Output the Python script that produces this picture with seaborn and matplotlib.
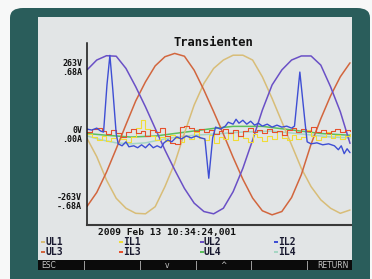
import numpy as np
import pandas as pd
import matplotlib
matplotlib.use("Agg")
import matplotlib.pyplot as plt
from matplotlib.patches import FancyBboxPatch, Rectangle
import seaborn as sns

# ── Data (time in ms, voltages in V, currents in A) ─────────────────────────
T_MS = list(range(28))
UL1 = [-17, -89, -181, -253, -292, -312, -314, -286, -207, -115, 3, 114, 199, 258,
       291, 310, 310, 291, 225, 140, 48, -43, -135, -207, -259, -292, -312, -299]
UL2 = [252, 291, 308, 306, 258, 186, 107, 22, -63, -141, -214, -272, -305, -314,
       -292, -227, -135, -24, 94, 193, 252, 291, 307, 307, 271, 186, 88, -37]
UL3 = [-285, -230, -150, -58, 37, 130, 205, 268, 304, 317, 306, 251, 173, 88,
       0, -92, -178, -252, -302, -318, -305, -250, -160, -40, 60, 150, 225, 280]

T_UL4 = [0, 2, 4.5, 7, 9, 11, 13, 15, 18, 21, 24, 27]
UL4 = [2, -5, -12, -8, 2, 12, 22, 30, 30, 16, 2, -5]

T_IL4 = [0, 1.5, 3, 4.5, 6, 8, 10, 13, 16, 19, 22, 25, 27]
IL4 = [-0.02, -0.06, -0.09, -0.10, -0.09, -0.05, -0.02, 0.0, 0.02, 0.03, 0.0, -0.03, -0.04]

T_NOISE = np.arange(0, 27.01, 0.5)   # sample clock of the noisy channels
IL1 = [0.00, -0.03, -0.06, -0.02, -0.07, -0.04, 0.01, -0.05, -0.08, -0.03,
       0.06, 0.14, 0.05, -0.02, -0.06, -0.03, -0.07, -0.01, -0.04, -0.08,
       -0.02, -0.05, 0.02, -0.04, -0.06, -0.01, -0.09, -0.03, -0.05, 0.01,
       -0.06, -0.02, -0.04, -0.08, 0.00, -0.03, -0.07, -0.02, -0.05, 0.03,
       -0.04, -0.06, -0.01, -0.05, -0.03, 0.04, -0.02, -0.06, -0.03, 0.02,
       -0.04, -0.01, -0.05, -0.02, 0.00]
IL3 = [0.02, 0.05, 0.06, 0.03, 0.00, 0.04, 0.01, -0.03, 0.02, 0.05,
       0.01, 0.03, -0.02, 0.04, 0.02, 0.06, -0.02, -0.09, -0.10, 0.07,
       0.08, 0.06, 0.03, 0.05, 0.02, 0.04, 0.00, 0.03, 0.05, 0.01,
       0.04, -0.02, 0.03, 0.06, 0.02, 0.04, 0.01, 0.05, 0.02, 0.03,
       -0.01, 0.04, 0.06, 0.02, 0.05, 0.03, 0.07, 0.02, 0.04, 0.01,
       0.03, 0.05, 0.02, 0.04, 0.03]

T_IL2 = [0.0, 0.5, 1.0, 1.4, 1.7, 2.05, 2.35, 2.65, 3.0, 3.2, 3.6, 4.0, 4.3, 4.8,
         5.2, 5.6, 6.0, 6.4, 6.8, 7.2, 7.6, 7.9, 8.3, 8.7, 9.2, 9.7, 10.2, 10.7,
         11.2, 11.7, 12.1, 12.5, 12.9, 13.2, 13.7, 14.2, 14.5, 15.0, 15.3, 15.6,
         16.0, 16.4, 16.8, 17.2, 17.6, 18.0, 18.5, 19.0, 19.5, 20.0, 20.5, 21.0,
         21.3, 21.85, 22.4, 22.6, 23.0, 23.6, 24.2, 24.8, 25.4, 25.8, 26.1, 26.4,
         26.7, 27.0]
IL2 = [0.05, 0.04, 0.06, 0.03, 0.02, 0.50, 0.80, 0.45, 0.00, -0.10, -0.12, -0.08,
       -0.13, -0.12, -0.14, -0.11, -0.14, -0.10, -0.14, -0.12, -0.14, -0.09, -0.06,
       -0.08, -0.03, -0.05, -0.02, -0.04, -0.02, -0.04, -0.05, -0.45, -0.04, 0.07,
       0.05, 0.08, 0.12, 0.10, 0.15, 0.11, 0.14, 0.10, 0.13, 0.09, 0.11, 0.08,
       0.10, 0.07, 0.09, 0.07, 0.08, 0.06, 0.08, 0.63, 0.10, -0.08, -0.10, -0.09,
       -0.11, -0.10, -0.12, -0.16, -0.12, -0.20, -0.15, -0.19]

V_PER_A = 263 / 0.68          # screen scale: 263 V and .68 A share a grid line
Y_TICKS = [263, 0, -263]
Y_LABELS = ["263V\n.68A", "0V\n.00A", "-263V\n-.68A"]
TIMESTAMP = "2009 Feb 13 10:34:24,001"
LEGEND_ROWS = [["UL1", "IL1", "UL2", "IL2"], ["UL3", "IL3", "UL4", "IL4"]]
KEYS = ["ESC", "", "v", "^", "", "RETURN"]

COLORS = {
    "UL1": "#d8bd78", "UL2": "#6a50c6", "UL3": "#d2663e", "UL4": "#5cbf5c",
    "IL1": "#f0dc36", "IL2": "#3e4ed4", "IL3": "#e6502c", "IL4": "#a6d6c4",
}

def frame(name, t, v, scale=1.0):
    return pd.DataFrame({"t": t, "v": np.asarray(v, float) * scale, "ch": name})

smooth = pd.concat([
    frame("IL4", T_IL4, IL4, V_PER_A),
    frame("UL4", T_UL4, UL4),
    frame("UL1", T_MS, UL1),
    frame("UL3", T_MS, UL3),
    frame("UL2", T_MS, UL2),
], ignore_index=True)
noisy = pd.concat([
    frame("IL1", T_NOISE, IL1, V_PER_A),
    frame("IL3", T_NOISE, IL3, V_PER_A),
], ignore_index=True)
il2 = frame("IL2", T_IL2, IL2, V_PER_A)

# ── Figure ───────────────────────────────────────────────────────────────────
sns.set_style("white")
plt.rcParams["font.family"] = ["DejaVu Sans Mono", "DejaVu Sans"]
W, H = 372, 279
fig = plt.figure(figsize=(W / 100, H / 100), dpi=100)
fig.patch.set_facecolor("#f7f8f8")

def box(x0, y0, x1, y1, **kw):
    return Rectangle((x0 / W, 1 - y1 / H), (x1 - x0) / W, (y1 - y0) / H,
                     transform=fig.transFigure, **kw)

# device bezel and screen
bezel = FancyBboxPatch((10 / W, -0.05), (360 / W), 1 - 8 / H + 0.05,
                       boxstyle="round,pad=0,rounding_size=0.035",
                       transform=fig.transFigure, facecolor="#2a5d5b",
                       edgecolor="none", zorder=-3)
fig.add_artist(bezel)
fig.add_artist(box(38, 17, 352, 270, facecolor="#e2e5e6", edgecolor="none", zorder=-2))
fig.add_artist(box(38, 260, 352, 270, facecolor="#0b0b0b", edgecolor="none", zorder=-1))
for sx in [84, 140, 196, 251, 307]:
    fig.add_artist(box(sx, 261, sx + 0.8, 270, facecolor="#9a9a9a", edgecolor="none", zorder=-1))

ax = fig.add_axes([87 / W, 1 - 225 / H, (351 - 87) / W, (225 - 43) / H])
ax.set_facecolor("none")

sns.lineplot(data=smooth, x="t", y="v", hue="ch", palette=COLORS, estimator=None,
             sort=False, legend=False, linewidth=1.1, ax=ax)
sns.lineplot(data=noisy, x="t", y="v", hue="ch", palette=COLORS, estimator=None,
             sort=False, legend=False, linewidth=0.8, drawstyle="steps-post", ax=ax)
sns.lineplot(data=il2, x="t", y="v", hue="ch", palette=COLORS, estimator=None,
             sort=False, legend=False, linewidth=1.0, ax=ax)

ax.set_xlim(0, 27.1)
ax.set_ylim(-358, 358)
ax.set_xlabel("")
ax.set_ylabel("")
ax.set_xticks([])
ax.set_yticks(Y_TICKS)
ax.set_yticklabels(Y_LABELS, fontsize=6, fontweight="bold", linespacing=1.05)
ax.tick_params(axis="y", length=2.5, width=0.8, color="#111111", pad=1,
               labelcolor="#111111")
for side in ["top", "right"]:
    ax.spines[side].set_visible(False)
ax.spines["left"].set_color("#111111")
ax.spines["left"].set_linewidth(1.1)
ax.spines["bottom"].set_color("#3a3a3a")
ax.spines["bottom"].set_linewidth(1.5)

txt = dict(fontweight="bold", transform=fig.transFigure)
fig.text(213 / W, 1 - 43 / H, "Transienten", ha="center", va="center",
         fontsize=8.7, color="#111111", **txt)
fig.text(98 / W, 1 - 232 / H, TIMESTAMP, ha="left", va="center",
         fontsize=6.8, color="#111111", **txt)

col_x = [41, 119, 200, 274]
row_y = [242, 252]
for r, names in enumerate(LEGEND_ROWS):
    for c, name in enumerate(names):
        x, y = col_x[c], row_y[r]
        fig.add_artist(box(x, y - 1, x + 3.5, y + 1, facecolor=COLORS[name],
                           edgecolor="none"))
        fig.text((x + 4) / W, 1 - y / H, name, ha="left", va="center",
                 fontsize=7, color="#1a1a30", **txt)

key_x = [41, 112, 167, 223, 279, 349]
for kx, label in zip(key_x, KEYS):
    if label:
        ha = "right" if label == "RETURN" else ("left" if label == "ESC" else "center")
        fig.text(kx / W, 1 - 265.5 / H, label, ha=ha, va="center",
                 fontsize=5.5, color="#c8c8c8", family="DejaVu Sans")

fig.savefig("out.png", dpi=100)
